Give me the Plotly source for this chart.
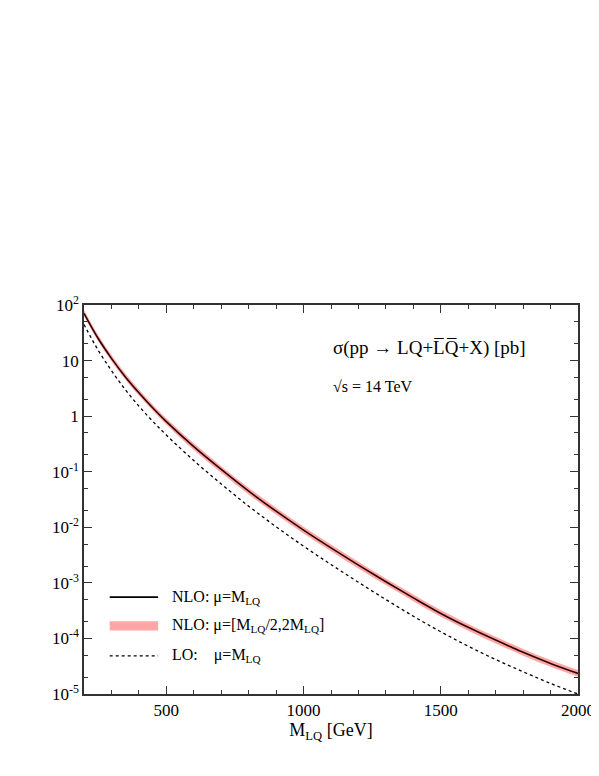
import numpy as np
import plotly.graph_objects as go

# LQ mass [GeV] and log10(sigma / pb)
MASS = [200, 250, 300, 350, 400, 450, 500, 600, 700, 800, 900, 1000, 1100, 1200,
        1300, 1400, 1500, 1600, 1700, 1800, 1900, 2000]
LOG_NLO = [1.85, 1.41, 1.04, 0.71, 0.42, 0.15, -0.10, -0.55, -0.96, -1.35, -1.71,
           -2.05, -2.37, -2.68, -2.98, -3.27, -3.55, -3.80, -4.03, -4.25, -4.45, -4.63]
LOG_LO = [1.65, 1.20, 0.82, 0.48, 0.18, -0.09, -0.34, -0.80, -1.22, -1.62, -1.99,
          -2.34, -2.67, -2.99, -3.30, -3.60, -3.88, -4.14, -4.38, -4.60, -4.81, -5.00]
BAND_UP = [0.06] * 22
BAND_DN = [0.05] * 7 + [0.06] * 15

x = np.array(MASS, float)
nlo = 10 ** np.array(LOG_NLO)
lo = 10 ** np.array(LOG_LO)
up = 10 ** (np.array(LOG_NLO) + np.array(BAND_UP))
dn = 10 ** (np.array(LOG_NLO) - np.array(BAND_DN))

RED = "rgba(255,80,80,0.5)"
FONT = "Liberation Serif"

fig = go.Figure()
fig.add_trace(go.Scatter(x=x, y=dn, mode="lines", line=dict(width=0, shape="spline"),
                         showlegend=False, hoverinfo="skip"))
fig.add_trace(go.Scatter(x=x, y=up, mode="lines", line=dict(width=0, shape="spline"),
                         fill="tonexty", fillcolor=RED, showlegend=False))
fig.add_trace(go.Scatter(x=x, y=nlo, mode="lines",
                         line=dict(color="#300000", width=1.6, shape="spline"),
                         showlegend=False))
fig.add_trace(go.Scatter(x=x, y=lo, mode="lines",
                         line=dict(color="black", width=1.3, dash="dot", shape="spline"),
                         showlegend=False))

ytick_vals = [10.0 ** k for k in range(-5, 3)]
ytick_text = ["10<sup>-5</sup>", "10<sup>-4</sup>", "10<sup>-3</sup>", "10<sup>-2</sup>",
              "10<sup>-1</sup>", "1", "10", "10<sup>2</sup>"]

axis_common = dict(showline=True, linecolor="#333", linewidth=1.5, mirror="allticks",
                   ticks="inside", ticklen=8, tickcolor="#333", showgrid=False,
                   zeroline=False, automargin=False,
                   tickfont=dict(family=FONT, size=17, color="black"))

fig.update_xaxes(range=[200, 2000], tickvals=[500, 1000, 1500, 2000],
                 minor=dict(dtick=100, ticks="inside", ticklen=4, tickcolor="#333"),
                 title=dict(text="M<sub>LQ</sub> [GeV]",
                            font=dict(family=FONT, size=18, color="black"), standoff=4),
                 **axis_common)
fig.update_yaxes(type="log", range=[-5, 2], tickvals=ytick_vals, ticktext=ytick_text,
                 minor=dict(ticks="inside", ticklen=4, tickcolor="#333", showgrid=False),
                 **axis_common)

# legend drawn inside the frame
shapes = [
    dict(type="line", xref="paper", yref="paper", x0=0.052, x1=0.15, y0=0.249, y1=0.249,
         line=dict(color="black", width=1.6)),
    dict(type="rect", xref="paper", yref="paper", x0=0.052, x1=0.15, y0=0.163, y1=0.187,
         fillcolor=RED, line=dict(width=0)),
    dict(type="line", xref="paper", yref="paper", x0=0.052, x1=0.15, y0=0.098, y1=0.098,
         line=dict(color="black", width=1.3, dash="dot")),
]
labels = ["NLO: μ=M<sub>LQ</sub>", "NLO: μ=[M<sub>LQ</sub>/2,2M<sub>LQ</sub>]",
          "LO:    μ=M<sub>LQ</sub>"]
annotations = []
for lab, yy in zip(labels, [0.249, 0.175, 0.098]):
    annotations.append(dict(text=lab, xref="paper", yref="paper", x=0.174, y=yy,
                            xanchor="left", yanchor="middle", showarrow=False,
                            font=dict(family=FONT, size=16, color="black")))
annotations.append(dict(text="σ(pp → LQ+L̅Q̅+X) [pb]", xref="paper", yref="paper",
                        x=0.5, y=0.89, xanchor="left", yanchor="middle", showarrow=False,
                        font=dict(family=FONT, size=19, color="black")))
annotations.append(dict(text="√s = 14 TeV", xref="paper", yref="paper",
                        x=0.5, y=0.79, xanchor="left", yanchor="middle", showarrow=False,
                        font=dict(family=FONT, size=16, color="black")))

fig.update_layout(width=590, height=776, margin=dict(l=76, r=20, t=297, b=90),
                  plot_bgcolor="white", paper_bgcolor="white",
                  shapes=shapes, annotations=annotations)

fig.write_html("out.html")
